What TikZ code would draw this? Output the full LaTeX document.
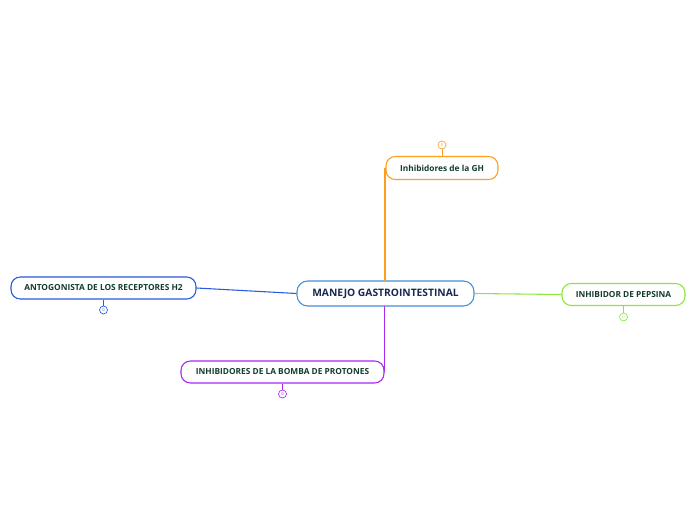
\documentclass[tikz,border=0pt]{standalone}
\usepackage{fontspec}
\setmainfont{Open Sans}
\usetikzlibrary{positioning}
\definecolor{ctrc}{RGB}{70,140,215}
\definecolor{ghc}{RGB}{250,160,30}
\definecolor{hdc}{RGB}{40,90,225}
\definecolor{bpc}{RGB}{170,40,240}
\definecolor{pepc}{RGB}{140,230,60}
\definecolor{txtc}{RGB}{20,60,45}
\definecolor{ctxt}{RGB}{25,40,80}
\newcommand{\LW}{0.8pt}
\newcommand{\RC}{7pt}

\begin{document}
\begin{tikzpicture}[
    x=0.75pt, y=-0.75pt,
    topic/.style={rectangle, draw=#1, fill=white, line width=\LW, rounded corners=\RC,
                  font=\fontsize{6.25}{7}\selectfont\bfseries, text=txtc, inner sep=0pt,
                  minimum height=16.5pt},
    link/.style={draw=#1, line width=\LW},
    knob/.style={circle, draw=#1, line width=0.5pt, fill=white, minimum size=6pt,
                 inner sep=0pt, text=#1, font=\fontsize{3}{3}\selectfont},
  ]
  \useasboundingbox (0,0) rectangle (696,520);

  %% ================= the central topic =================
  \node[rectangle, draw=ctrc, fill=white, line width=\LW, rounded corners=8pt,
        font=\fontsize{7.7}{9}\selectfont\bfseries, text=ctxt, inner sep=0pt,
        minimum width=132.75pt, minimum height=18.75pt] (mgi) at (385.5,293.5)
        {MANEJO GASTROINTESTINAL};

  %% ================= the branches =================
  \coordinate (ghin) at (385,168);
  \coordinate (ghout) at (385,281);
  \draw[link=ghc] (ghout) -- (ghin);
  \node[topic=ghc, minimum width=84pt, minimum height=17.25pt] (gh) at (442,168)
        {Inhibidores de la GH};

  \node[topic=hdc, minimum width=138.75pt] (hdos) at (103.5,288)
        {ANTOGONISTA DE LOS RECEPTORES H2};
  \draw[link=hdc] (hdos.east) -- (mgi.west);

  \coordinate (bpout) at (384.5,306);
  \coordinate (bpin) at (384.5,372);
  \draw[link=bpc] (bpout) -- (bpin);
  \node[topic=bpc, minimum width=152.25pt] (bomba) at (282.5,372)
        {INHIBIDORES DE LA BOMBA DE PROTONES};

  \node[topic=pepc, minimum width=92.25pt] (pep) at (623.5,294.5)
        {INHIBIDOR DE PEPSINA};
  \draw[link=pepc] (mgi.east) -- (pep.west);

  %% ================= the small counters =================
  \node[knob=ghc] (kgh) at (442,145) {0};
  \draw[link=ghc, line width=0.5pt] (kgh) -- (gh.north);
  \node[knob=hdc] (khdos) at (103.5,310) {0};
  \draw[link=hdc, line width=0.5pt] (hdos.south) -- (khdos);
  \node[knob=bpc] (kbomba) at (282.5,394) {0};
  \draw[link=bpc, line width=0.5pt] (bomba.south) -- (kbomba);
  \node[knob=pepc] (kpep) at (623.5,317) {0};
  \draw[link=pepc, line width=0.5pt] (pep.south) -- (kpep);

\end{tikzpicture}
\end{document}
